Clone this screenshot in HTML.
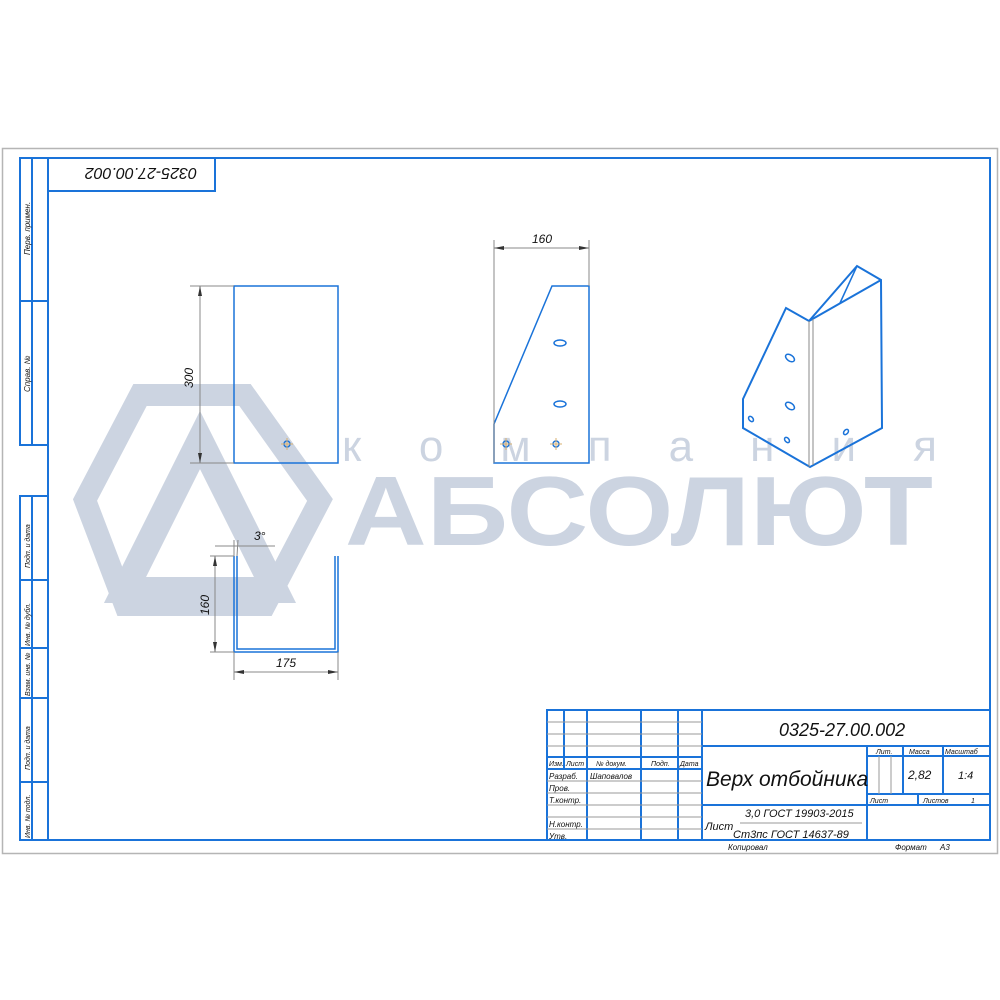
<!DOCTYPE html>
<html><head><meta charset="utf-8"><style>
html,body{margin:0;padding:0;background:#fff;}
svg{display:block;}
text{font-family:"Liberation Sans",sans-serif;font-style:italic;fill:#111;}
</style></head><body>
<svg width="1000" height="1000" viewBox="0 0 1000 1000" xmlns="http://www.w3.org/2000/svg">
<rect x="0" y="0" width="1000" height="1000" fill="#fff"/>
<rect x="2.5" y="148.5" width="995" height="705" fill="none" stroke="#b5b5b5" stroke-width="1.5"/>

<!-- watermark -->
<g>
<polygon points="140,395 245,395 320,500 265,605 125,605 85,500" fill="none" stroke="#ccd4e1" stroke-width="22"/>
<polygon points="200,440 275,590 125,590" fill="none" stroke="#ccd4e1" stroke-width="26"/>
</g>
<text x="342" y="461" font-size="44" textLength="595" lengthAdjust="spacing" style="font-style:normal;fill:#ccd4e1">компания</text>
<text x="345" y="545" font-size="98" textLength="588" lengthAdjust="spacingAndGlyphs" style="font-style:normal;font-weight:bold;fill:#ccd4e1">АБСОЛЮТ</text>

<g stroke="#1a73d9" fill="none" stroke-width="2">
<rect x="48" y="158" width="942" height="682"/>
<rect x="48" y="158" width="167" height="33"/>
<rect x="20" y="158" width="28" height="287"/>
<line x1="32" y1="158" x2="32" y2="445"/><line x1="20" y1="301" x2="48" y2="301"/>
<rect x="20" y="496" width="28" height="344"/>
<line x1="32" y1="496" x2="32" y2="840"/>
<line x1="20" y1="580" x2="48" y2="580"/><line x1="20" y1="648" x2="48" y2="648"/>
<line x1="20" y1="698" x2="48" y2="698"/><line x1="20" y1="782" x2="48" y2="782"/>
<rect x="547" y="710" width="443" height="130"/>
<line x1="564" y1="710" x2="564" y2="769"/>
<line x1="587" y1="710" x2="587" y2="840"/>
<line x1="641" y1="710" x2="641" y2="840"/>
<line x1="678" y1="710" x2="678" y2="840"/>
<line x1="702" y1="710" x2="702" y2="840"/>
<line x1="547" y1="757" x2="702" y2="757"/>
<line x1="547" y1="769" x2="702" y2="769"/>
<line x1="702" y1="746" x2="990" y2="746"/>
<line x1="867" y1="746" x2="867" y2="840"/>
<line x1="903" y1="746" x2="903" y2="794"/>
<line x1="943" y1="746" x2="943" y2="794"/>
<line x1="867" y1="756" x2="990" y2="756"/>
<line x1="867" y1="794" x2="990" y2="794"/>
<line x1="918" y1="794" x2="918" y2="805"/>
<line x1="702" y1="805" x2="990" y2="805"/>
</g>
<g stroke="#999" stroke-width="1">
<line x1="547" y1="722" x2="702" y2="722"/><line x1="547" y1="734" x2="702" y2="734"/>
<line x1="547" y1="746" x2="702" y2="746"/>
<line x1="547" y1="781" x2="702" y2="781"/><line x1="547" y1="793" x2="702" y2="793"/>
<line x1="547" y1="805" x2="702" y2="805"/><line x1="547" y1="817" x2="702" y2="817"/>
<line x1="547" y1="829" x2="702" y2="829"/>
<line x1="879" y1="756" x2="879" y2="794"/><line x1="891" y1="756" x2="891" y2="794"/>
<line x1="740" y1="823" x2="862" y2="823"/>
</g>

<text x="0" y="0" font-size="16" transform="translate(197,168) rotate(180)">0325-27.00.002</text>
<text font-size="8" transform="translate(30,255) rotate(-90)">Перв. примен.</text>
<text font-size="8" transform="translate(30,392) rotate(-90)">Справ. №</text>
<text font-size="7" transform="translate(30,568) rotate(-90)">Подп. и дата</text>
<text font-size="7" transform="translate(30,646) rotate(-90)">Инв. № дубл.</text>
<text font-size="7" transform="translate(30,696) rotate(-90)">Взам. инв. №</text>
<text font-size="7" transform="translate(30,770) rotate(-90)">Подп. и дата</text>
<text font-size="7" transform="translate(30,838) rotate(-90)">Инв. № подл.</text>

<text x="779" y="736" font-size="18">0325-27.00.002</text>
<text x="706" y="786" font-size="21">Верх отбойника</text>
<text x="876" y="754" font-size="7">Лит.</text>
<text x="909" y="754" font-size="7">Масса</text>
<text x="945" y="754" font-size="7">Масштаб</text>
<text x="908" y="779" font-size="12">2,82</text>
<text x="958" y="779" font-size="11">1:4</text>
<text x="870" y="803" font-size="7">Лист</text>
<text x="923" y="803" font-size="7">Листов</text>
<text x="971" y="803" font-size="7">1</text>
<text x="745" y="817" font-size="11">3,0 ГОСТ 19903-2015</text>
<text x="705" y="830" font-size="11">Лист</text>
<text x="733" y="838" font-size="11">Ст3пс ГОСТ 14637-89</text>
<text x="549" y="766" font-size="7">Изм.</text><text x="566" y="766" font-size="7">Лист</text>
<text x="596" y="766" font-size="7">№ докум.</text><text x="651" y="766" font-size="7">Подп.</text>
<text x="680" y="766" font-size="7">Дата</text>
<text x="549" y="779" font-size="8">Разраб.</text><text x="590" y="779" font-size="8">Шаповалов</text>
<text x="549" y="791" font-size="8">Пров.</text>
<text x="549" y="803" font-size="8">Т.контр.</text>
<text x="549" y="827" font-size="8">Н.контр.</text>
<text x="549" y="839" font-size="8">Утв.</text>
<text x="728" y="850" font-size="8">Копировал</text>
<text x="895" y="850" font-size="8">Формат</text><text x="940" y="850" font-size="8">А3</text>

<g stroke="#1a73d9" fill="none" stroke-width="1.5">
<rect x="234" y="286" width="104" height="177"/>
<circle cx="287" cy="444" r="3"/>
<polygon points="494,463 494,424 552,286 589,286 589,463"/>
<ellipse cx="560" cy="343" rx="6" ry="3"/>
<ellipse cx="560" cy="404" rx="6" ry="3"/>
<circle cx="506" cy="444" r="3"/><circle cx="556" cy="444" r="3"/>
<polyline points="234,556 234,652 338,652 338,556"/>
<polyline points="237,556 237,649 335,649 335,556"/>
<polygon points="743,399 786,308 809,321 857,266 881,280 882,428 810,467 743,428" stroke-width="2"/>
<line x1="809" y1="321" x2="881" y2="280" stroke-width="2"/>
<line x1="840" y1="303" x2="857" y2="266"/>
<ellipse cx="790" cy="358" rx="5" ry="3" transform="rotate(35 790 358)"/>
<ellipse cx="790" cy="406" rx="5" ry="3" transform="rotate(35 790 406)"/>
<ellipse cx="751" cy="419" rx="3" ry="2" transform="rotate(50 751 419)"/>
<ellipse cx="787" cy="440" rx="3" ry="2" transform="rotate(50 787 440)"/>
<ellipse cx="846" cy="432" rx="3" ry="2" transform="rotate(-50 846 432)"/>
</g>
<g stroke="#d9b070" stroke-width="1">
<line x1="281" y1="444" x2="293" y2="444"/><line x1="287" y1="438" x2="287" y2="450"/>
<line x1="500" y1="444" x2="512" y2="444"/><line x1="506" y1="438" x2="506" y2="450"/>
<line x1="550" y1="444" x2="562" y2="444"/><line x1="556" y1="438" x2="556" y2="450"/>
</g>
<g stroke="#888" stroke-width="1" fill="none">
<line x1="809" y1="321" x2="809" y2="467"/><line x1="813" y1="319" x2="813" y2="465"/>
<line x1="190" y1="286" x2="234" y2="286"/><line x1="190" y1="463" x2="234" y2="463"/>
<line x1="200" y1="286" x2="200" y2="463"/>
<line x1="494" y1="240" x2="494" y2="463"/><line x1="589" y1="240" x2="589" y2="286"/>
<line x1="494" y1="248" x2="589" y2="248"/>
<line x1="210" y1="556" x2="234" y2="556"/><line x1="210" y1="652" x2="234" y2="652"/>
<line x1="215" y1="556" x2="215" y2="652"/>
<line x1="234" y1="652" x2="234" y2="680"/><line x1="338" y1="652" x2="338" y2="680"/>
<line x1="234" y1="672" x2="338" y2="672"/>
<line x1="234" y1="556" x2="234" y2="540"/><line x1="237" y1="556" x2="238" y2="540"/>
<line x1="215" y1="546" x2="275" y2="546"/>
</g>
<g fill="#333">
<polygon points="200,286 198,296 202,296"/><polygon points="200,463 198,453 202,453"/>
<polygon points="494,248 504,246 504,250"/><polygon points="589,248 579,246 579,250"/>
<polygon points="215,556 213,566 217,566"/><polygon points="215,652 213,642 217,642"/>
<polygon points="234,672 244,670 244,674"/><polygon points="338,672 328,670 328,674"/>
</g>
<text font-size="12" transform="translate(193,388) rotate(-90)">300</text>
<text x="532" y="243" font-size="12">160</text>
<text font-size="12" transform="translate(209,615) rotate(-90)">160</text>
<text x="276" y="667" font-size="12">175</text>
<text x="254" y="540" font-size="12">3°</text>
</svg>
</body></html>
